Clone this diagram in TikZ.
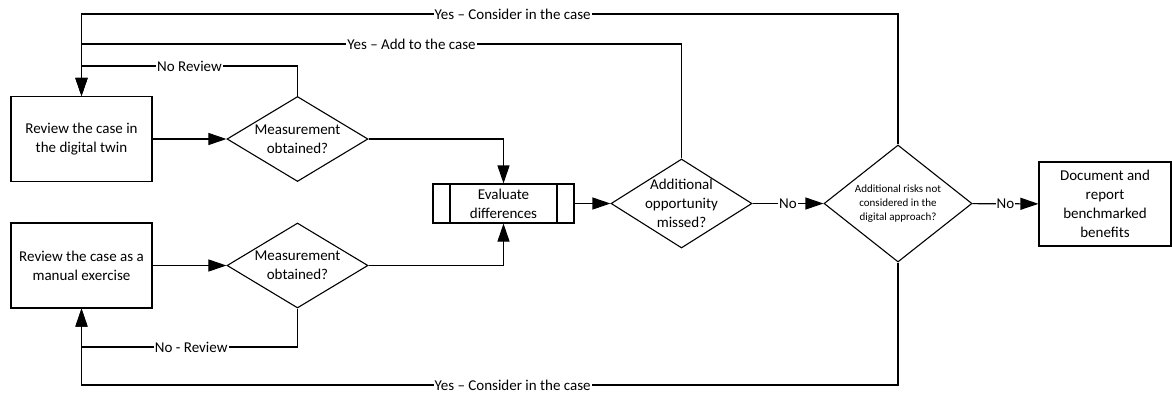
\documentclass[tikz,border=0pt]{standalone}
\usepackage{fontspec}
\setmainfont{Carlito}
\usetikzlibrary{shapes.geometric,arrows.meta}
\tikzset{
  stepbox/.style={draw, align=center, inner sep=0pt, minimum width=141pt, minimum height=85pt, font=\fontsize{15}{19}\selectfont},
  predef/.style={draw, align=center, inner sep=0pt, minimum width=141pt, minimum height=39pt, font=\fontsize{15}{19}\selectfont,
    path picture={\draw ([xshift=17pt]path picture bounding box.north west) -- ([xshift=17pt]path picture bounding box.south west);
                  \draw ([xshift=-17pt]path picture bounding box.north east) -- ([xshift=-17pt]path picture bounding box.south east);}},
  decision/.style={draw, diamond, inner sep=0pt, minimum width=141pt, minimum height=85pt},
  txt/.style={align=center, font=\fontsize{15}{19}\selectfont},
  smalltxt/.style={align=center, font=\fontsize{11}{13.8}\selectfont},
  lbl/.style={fill=white, inner xsep=1pt, inner ysep=0pt, font=\fontsize{15}{18}\selectfont},
  arr/.style={-{Triangle[length=18pt,width=12pt]}}
}
\begin{document}
\begin{tikzpicture}[x=1pt,y=-1pt,line width=1.1pt]
\useasboundingbox (0,0) rectangle (1172,392);
\node[stepbox] (twin) at (81.5,139) {Review the case in\\the digital twin};
\node[stepbox] (manual) at (81.5,265.5) {Review the case as a\\manual exercise};
\node[decision, label={[txt]center:{Measurement\\obtained?}}] (meas1) at (297.5,139) {};
\node[decision, label={[txt]center:{Measurement\\obtained?}}] (meas2) at (297.5,265.5) {};
\node[predef] (eval) at (503.5,203.5) {Evaluate\\differences};
\node[decision, minimum height=89pt, label={[txt]center:{Additional\\opportunity\\missed?}}] (opp) at (681.5,203.5) {};
\node[decision, minimum width=148pt, minimum height=117pt, label={[smalltxt]center:{Additional risks not\\considered in the\\digital approach?}}] (risk) at (898,203.5) {};
\node[stepbox, minimum width=132pt, minimum height=84pt] (report) at (1105,204) {Document and\\report\\benchmarked\\benefits};
\coordinate (top1) at (81.5,14); \coordinate (top2) at (81.5,44); \coordinate (top3) at (81.5,66);
\coordinate (bot1) at (81.5,347); \coordinate (bot2) at (81.5,385);
\draw[arr] (twin) -- (meas1);
\draw[arr] (manual) -- (meas2);
\draw[arr] (meas1.east) -| (eval.north);
\draw[arr] (meas2.east) -| (eval.south);
\draw[arr] (eval) -- (opp);
\draw[arr] (opp) -- node[lbl]{No} (risk);
\draw[arr] (risk) -- node[lbl]{No} (report);
\draw[arr] (meas1.north) |- node[lbl,pos=0.75]{No Review} (top3) -- (twin.north);
\draw[arr] (opp.north) |- node[lbl,pos=0.725]{Yes – Add to the case} (top2) -- (twin.north);
\draw[arr] (risk.north) |- node[lbl,pos=0.736]{Yes – Consider in the case} (top1) -- (twin.north);
\draw[arr] (meas2.south) |- node[lbl,pos=0.746]{No - Review} (bot1) -- (manual.south);
\draw[arr] (risk.south) |- node[lbl,pos=0.736]{Yes – Consider in the case} (bot2) -- (manual.south);
\end{tikzpicture}
\end{document}
